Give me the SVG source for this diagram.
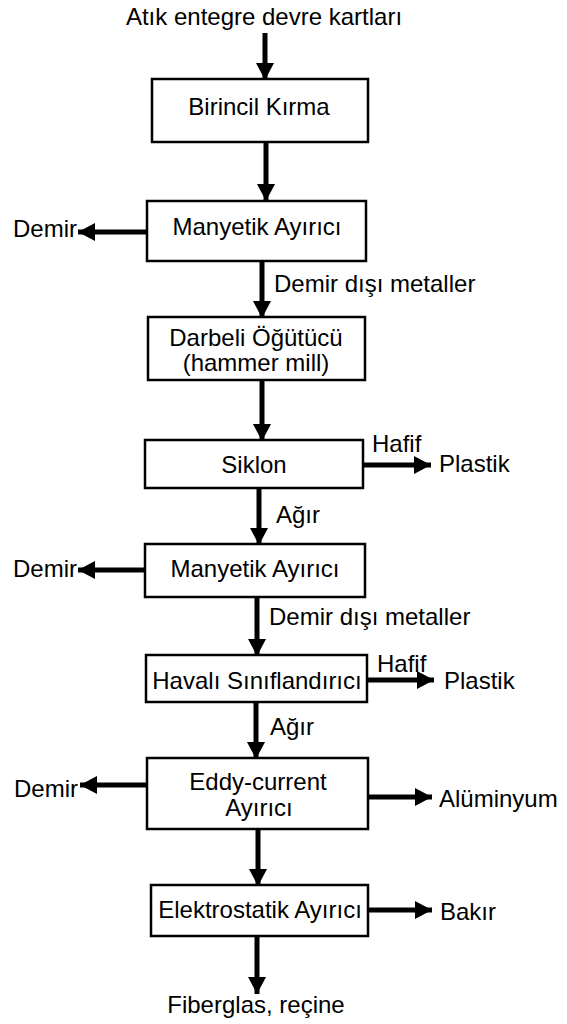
<svg xmlns="http://www.w3.org/2000/svg" width="567" height="1024" viewBox="0 0 567 1024">
<style>
text{font-family:"Liberation Sans",Arial,sans-serif;font-size:24px;fill:#000}
.c{text-anchor:middle}
.box{fill:#fff;stroke:#000;stroke-width:2.5}
.ar{stroke:#000;stroke-width:5;fill:none;marker-end:url(#ah)}
</style>
<defs>
<marker id="ah" markerUnits="userSpaceOnUse" markerWidth="18" markerHeight="18" refX="17" refY="9" orient="auto" viewBox="0 0 18 18">
<path d="M0,0 L17,9 L0,18 z" fill="#000"/>
</marker>
</defs>
<rect width="567" height="1024" fill="#fff"/>
<g id="connectors">
<line class="ar" x1="265" y1="33" x2="265" y2="80"/>
<line class="ar" x1="266" y1="142" x2="266" y2="201"/>
<line class="ar" x1="147" y1="232" x2="78" y2="232"/>
<line class="ar" x1="262" y1="261" x2="262" y2="318"/>
<line class="ar" x1="262" y1="380" x2="262" y2="441"/>
<line class="ar" x1="363" y1="465" x2="431" y2="465"/>
<line class="ar" x1="259" y1="488" x2="259" y2="545"/>
<line class="ar" x1="145" y1="570" x2="78" y2="570"/>
<line class="ar" x1="257" y1="597" x2="257" y2="656"/>
<line class="ar" x1="367" y1="680" x2="434" y2="680"/>
<line class="ar" x1="256" y1="702" x2="256" y2="759"/>
<line class="ar" x1="147" y1="785" x2="80" y2="785"/>
<line class="ar" x1="368" y1="797" x2="432" y2="797"/>
<line class="ar" x1="258" y1="829" x2="258" y2="886"/>
<line class="ar" x1="368" y1="910" x2="432" y2="910"/>
<line class="ar" x1="257" y1="936" x2="257" y2="994"/>
</g>
<g id="labels">
<text class="c" x="264" y="25">Atık entegre devre kartları</text>
<text x="13" y="237">Demir</text>
<text x="274" y="292">Demir dışı metaller</text>
<text x="372" y="452">Hafif</text>
<text x="439" y="472">Plastik</text>
<text x="276" y="523">Ağır</text>
<text x="13" y="577">Demir</text>
<text x="269" y="625">Demir dışı metaller</text>
<text x="377" y="672">Hafif</text>
<text x="444" y="689">Plastik</text>
<text x="270" y="735">Ağır</text>
<text x="14" y="797">Demir</text>
<text x="439" y="807">Alüminyum</text>
<text x="440" y="920">Bakır</text>
<text class="c" x="256" y="1013">Fiberglas, reçine</text>
</g>
<g id="birincil-kirma">
<rect class="box" x="152" y="79" width="216" height="63"/>
<text class="c" x="259" y="115">Birincil Kırma</text>
</g>
<g id="manyetik-ayirici-1">
<rect class="box" x="147" y="201" width="219" height="60"/>
<text class="c" x="257" y="235">Manyetik Ayırıcı</text>
</g>
<g id="darbeli-ogutucu">
<rect class="box" x="148" y="317" width="217" height="63"/>
<text class="c" x="256" y="346">Darbeli Öğütücü</text>
<text class="c" x="256" y="371">(hammer mill)</text>
</g>
<g id="siklon">
<rect class="box" x="145" y="440" width="218" height="48"/>
<text class="c" x="254" y="473">Siklon</text>
</g>
<g id="manyetik-ayirici-2">
<rect class="box" x="145" y="544" width="220" height="53"/>
<text class="c" x="255" y="577">Manyetik Ayırıcı</text>
</g>
<g id="havali-siniflandirici">
<rect class="box" x="146" y="655" width="221" height="47"/>
<text class="c" x="257" y="689">Havalı Sınıflandırıcı</text>
</g>
<g id="eddy-current">
<rect class="box" x="147" y="758" width="221" height="71"/>
<text class="c" x="258" y="790">Eddy-current</text>
<text class="c" x="259" y="816">Ayırıcı</text>
</g>
<g id="elektrostatik">
<rect class="box" x="151" y="885" width="217" height="51"/>
<text class="c" x="260" y="918">Elektrostatik Ayırıcı</text>
</g>
</svg>
